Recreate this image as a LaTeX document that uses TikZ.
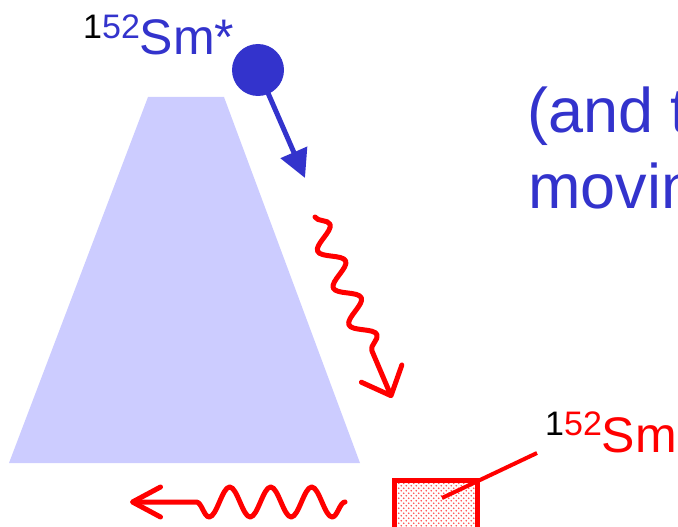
\documentclass[tikz,border=0pt]{standalone}
\usepackage{fontspec}
\setmainfont{Liberation Sans}
\usetikzlibrary{arrows.meta, decorations.pathmorphing, patterns.meta}

\definecolor{smblue}{HTML}{3333CC}
\definecolor{foilblue}{HTML}{CCCCFF}
\definecolor{smred}{HTML}{FF0000}

\newcommand{\isosup}[2]{\raisebox{#1}{\fontsize{34}{34}\selectfont #2}}

\tikzdeclarepattern{
  name=sampledots,
  type=uncolored,
  bottom left={(-.1pt,-.1pt)},
  top right={(5.1pt,5.1pt)},
  tile size={(5pt,5pt)},
  code={
    \fill (1.25pt,1.25pt) circle (0.8pt);
    \fill (3.75pt,3.75pt) circle (0.8pt);
  }
}

\tikzset{
  smlabel/.style={font=\fontsize{50}{60}\selectfont, inner sep=0pt, anchor=base west},
  notetext/.style={font=\fontsize{63}{76}\selectfont, text=smblue, inner sep=0pt, anchor=base west},
  gammaray/.style={draw=smred, line width=5pt, line cap=round, line join=round,
    decorate, decoration={snake, amplitude=#1}},
}

\begin{document}
\begin{tikzpicture}[x=1pt, y=-1pt]
    \useasboundingbox (0,0) rectangle (678,527);
    % moving source and stopper
    \fill[foilblue] (9,463) -- (148,97) -- (224,97) -- (360,463) -- cycle;
    \node[circle, fill=smblue, minimum size=52pt, inner sep=0pt] (nucleus) at (258,70) {};
    \coordinate (flight) at (305,178);
    \draw[smblue, line width=5pt, -{Triangle[length=28pt, width=28pt]}] (nucleus.center) -- (flight);
    \node[smlabel, text=smblue] (excited) at (83,55)
        {\isosup{16pt}{\textcolor{black}{1}52}Sm*};

    % emitted gammas
    \coordinate (emitA) at (315,217);
    \coordinate (hitA) at (392,398);
    \draw[gammaray=11pt, decoration={segment length=40pt, post length=38pt},
          -{Straight Barb[length=24pt, width=44pt, round]}] (emitA) -- (hitA);
    \coordinate (emitB) at (345,502);
    \coordinate (hitB) at (130,502);
    \draw[gammaray=15pt, decoration={segment length=41pt, post length=46pt},
          -{Straight Barb[length=28pt, width=30pt, round]}] (emitB) -- (hitB);

    % target sample
    \node[draw=smred, line width=4.5pt, pattern={sampledots}, pattern color=smred!70,
          minimum width=83pt, minimum height=60pt, inner sep=0pt, anchor=north west] (sample) at (392,478) {};
    \node[smlabel, text=smred] (ground) at (545,452)
        {\isosup{17pt}{\textcolor{black}{1}52}Sm};
    \coordinate (samplept) at (442,498);
    \coordinate (groundpt) at (537,453);
    \draw[smred, line width=4pt] (samplept) -- (groundpt);

    \node[notetext] (noteA) at (527,132) {(and t};
    \node[notetext] (noteB) at (528,208) {movin};
\end{tikzpicture}
\end{document}
